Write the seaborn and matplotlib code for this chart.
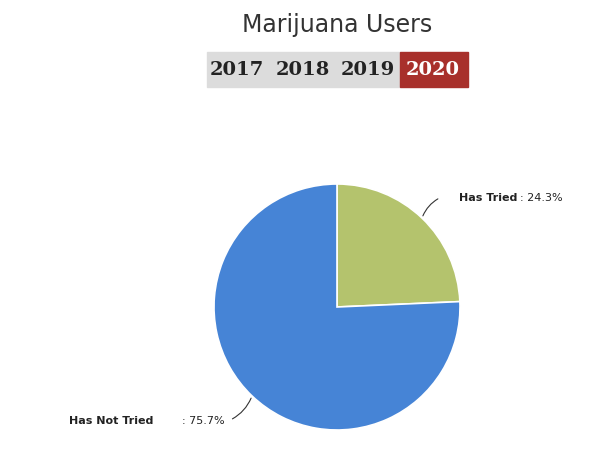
import matplotlib
matplotlib.use("Agg")
import matplotlib.pyplot as plt
from matplotlib.patches import Rectangle
import seaborn as sns

sns.set_theme(style="white")
plt.rcParams['font.family'] = ['DejaVu Sans']

# data
labels = ["Has Tried", "Has Not Tried"]
values = [24.3, 75.7]
colors = ["#b4c36d", "#4684d6"]
years = ["2017", "2018", "2019", "2020"]
active_year = "2020"

fig = plt.figure(figsize=(6, 4.5), dpi=100)
W, H = 600, 450

# title
fig.text(337 / W, 1 - 25 / H, "Marijuana Users", ha="center", va="center",
         fontsize=17, color="#333333")

# year selector
fig.patches.append(Rectangle((207 / W, 1 - 87 / H), 193 / W, 35 / H,
                             transform=fig.transFigure, color="#dcdcdc"))
fig.patches.append(Rectangle((400 / W, 1 - 87 / H), 68 / W, 35 / H,
                             transform=fig.transFigure, color="#a8302b"))
year_x = [237, 303, 368, 433]
for yr, xx in zip(years, year_x):
    fig.text(xx / W, 1 - 70 / H, yr, ha="center", va="center",
             fontsize=14, fontweight="bold", family="DejaVu Serif",
             color="white" if yr == active_year else "#222222")

# pie
r = 123
ax = fig.add_axes([(337 - r) / W, (450 - 307 - r) / H, 2 * r / W, 2 * r / H])
ax.pie(values, colors=colors, startangle=90, counterclock=False,
       wedgeprops=dict(edgecolor="white", linewidth=1.2))
ax.set_xlim(-1, 1)
ax.set_ylim(-1, 1)
ax.set_aspect("auto")
ax.axis("off")

# labels
ax.annotate("", xy=(0.69, 0.72), xytext=(0.84, 0.89),
            arrowprops=dict(arrowstyle="-", color="#333333", lw=0.8,
                            connectionstyle="arc3,rad=0.2"), annotation_clip=False)
ax.text(0.99, 0.89, labels[0], ha="left", va="center", fontsize=8,
        fontweight="bold", color="#222222", clip_on=False)
ax.text(1.49, 0.89, f": {values[0]}%", ha="left", va="center", fontsize=8,
        color="#222222", clip_on=False)

ax.annotate("", xy=(-0.69, -0.72), xytext=(-0.87, -0.92),
            arrowprops=dict(arrowstyle="-", color="#333333", lw=0.8,
                            connectionstyle="arc3,rad=0.2"), annotation_clip=False)
ax.text(-1.49, -0.93, labels[1], ha="right", va="center", fontsize=8,
        fontweight="bold", color="#222222", clip_on=False)
ax.text(-0.91, -0.93, f": {values[1]}%", ha="right", va="center", fontsize=8,
        color="#222222", clip_on=False)

fig.savefig("out.png", dpi=100)
